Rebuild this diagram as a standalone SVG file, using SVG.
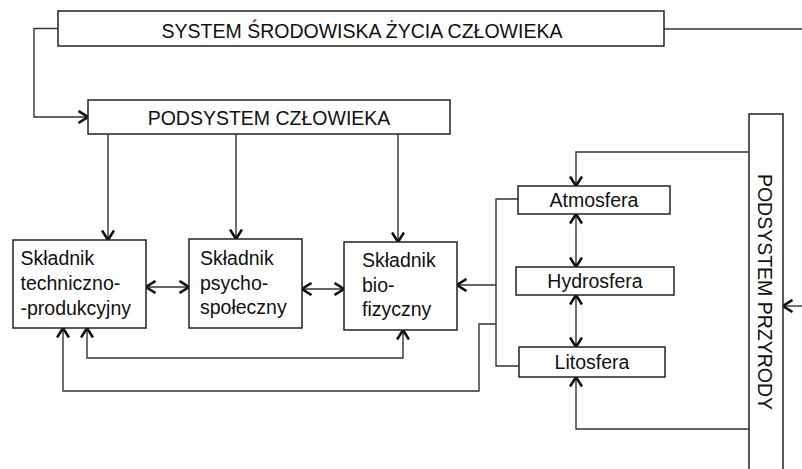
<svg xmlns="http://www.w3.org/2000/svg" width="802" height="469" viewBox="0 0 802 469">
<style>
.box{fill:#fff;stroke:#222;stroke-width:1.5}
.t{font-family:"Liberation Sans",Arial,sans-serif;font-size:19.5px;fill:#111}
.c{text-anchor:middle}
.ln{fill:none;stroke:#333;stroke-width:1.4}
</style>
<defs>
<marker id="ah" viewBox="0 0 12 14" refX="10.5" refY="7" markerWidth="12" markerHeight="14" markerUnits="userSpaceOnUse" orient="auto-start-reverse">
<path d="M1,1 L10.5,7 L1,13" fill="none" stroke="#111" stroke-width="2.6"/>
</marker>
</defs>
<g id="connectors">
<path class="ln" d="M58,28.5 L34,28.5 L34,117 L88,117" marker-end="url(#ah)"/>
<path class="ln" d="M664,29 L802,29"/>
<path class="ln" d="M108,134 L108,240" marker-end="url(#ah)"/>
<path class="ln" d="M236,134 L236,239" marker-end="url(#ah)"/>
<path class="ln" d="M398,134 L398,242" marker-end="url(#ah)"/>
<path class="ln" d="M146,287 L189,287" marker-start="url(#ah)" marker-end="url(#ah)"/>
<path class="ln" d="M302,289 L344,289" marker-start="url(#ah)" marker-end="url(#ah)"/>
<path class="ln" d="M87,328 L87,358 L403,358 L403,330" marker-start="url(#ah)" marker-end="url(#ah)"/>
<path class="ln" d="M496,324 L479,324 L479,391 L63,391 L63,328" marker-end="url(#ah)"/>
<path class="ln" d="M518,199 L496,199 L496,366 L519,366"/>
<path class="ln" d="M496,285 L457,285" marker-end="url(#ah)"/>
<path class="ln" d="M749,152 L576,152 L576,186" marker-end="url(#ah)"/>
<path class="ln" d="M749,429 L576,429 L576,377" marker-end="url(#ah)"/>
<path class="ln" d="M576,214 L576,267" marker-start="url(#ah)" marker-end="url(#ah)"/>
<path class="ln" d="M576,295 L576,347" marker-start="url(#ah)" marker-end="url(#ah)"/>
<path class="ln" d="M802,306 L783,306" marker-end="url(#ah)"/>
</g>
<g id="system">
<rect class="box" x="58" y="11" width="606" height="35"/>
<text class="t c" x="362" y="38">SYSTEM ŚRODOWISKA ŻYCIA CZŁOWIEKA</text>
</g>
<g id="podsystem-czlowieka">
<rect class="box" x="88" y="100" width="362" height="34"/>
<text class="t c" x="269" y="124.5">PODSYSTEM CZŁOWIEKA</text>
</g>
<g id="techniczno">
<rect class="box" x="13" y="240" width="133" height="88"/>
<text class="t" x="20.5" y="265">Składnik</text>
<text class="t" x="20.5" y="290">techniczno-</text>
<text class="t" x="20.5" y="315">-produkcyjny</text>
</g>
<g id="psycho">
<rect class="box" x="189" y="239" width="113" height="89"/>
<text class="t" x="200" y="265">Składnik</text>
<text class="t" x="200" y="289.5">psycho-</text>
<text class="t" x="200" y="313.5">społeczny</text>
</g>
<g id="bio">
<rect class="box" x="344" y="242" width="113" height="88"/>
<text class="t" x="362" y="267">Składnik</text>
<text class="t" x="362" y="291.5">bio-</text>
<text class="t" x="362" y="316">fizyczny</text>
</g>
<g id="atmosfera">
<rect class="box" x="518" y="186" width="152" height="28"/>
<text class="t c" x="594" y="207">Atmosfera</text>
</g>
<g id="hydrosfera">
<rect class="box" x="516" y="267" width="158" height="28"/>
<text class="t c" x="595" y="288">Hydrosfera</text>
</g>
<g id="litosfera">
<rect class="box" x="519" y="347" width="146" height="30"/>
<text class="t c" x="592" y="369">Litosfera</text>
</g>
<g id="podsystem-przyrody">
<rect class="box" x="749" y="114" width="34" height="370"/>
<text class="t c" transform="translate(758,292) rotate(90)">PODSYSTEM PRZYRODY</text>
</g>
</svg>
